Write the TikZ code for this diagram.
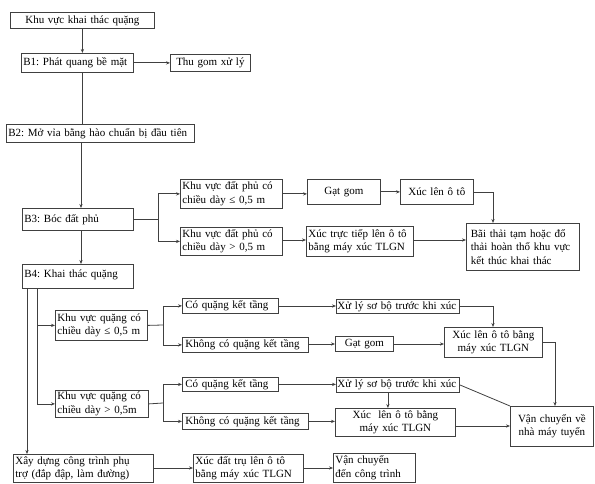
\documentclass[tikz,border=0pt]{standalone}
\usepackage{fontspec}
\setmainfont{Liberation Serif}
\usetikzlibrary{arrows.meta}
\frenchspacing
\begin{document}
\begin{tikzpicture}[x=1pt,y=-1pt,
  box/.style={draw=black!75, line width=0.8pt, anchor=north west, inner xsep=2pt, inner ysep=1pt,
    font=\fontsize{11}{13.5}\selectfont, align=left},
  cbox/.style={box, align=center},
  ln/.style={draw=black!75, line width=0.8pt},
  arr/.style={ln, -{Stealth[length=4pt,width=3.2pt]}}]
\useasboundingbox (0,0) rectangle (595,484);
% nodes
\node[cbox, minimum width=144pt, minimum height=16pt, text width=140pt] (n1) at (10,12) {Khu vực khai thác quặng};
\node[box, minimum width=112pt, minimum height=19pt, text width=108pt] (n2) at (21,53) {B1: Phát quang bề mặt};
\node[cbox, minimum width=80pt, minimum height=17pt, text width=76pt] (n3) at (170,54) {Thu gom xử lý};
\node[box, minimum width=188pt, minimum height=18pt, text width=184pt] (n4) at (6,124) {B2: Mở vỉa bằng hào chuẩn bị đầu tiên};
\node[box, minimum width=111pt, minimum height=22pt, text width=107pt] (n5) at (22,208) {B3: Bóc đất phủ};
\node[box, minimum width=102pt, minimum height=29pt, text width=98pt] (n6) at (180,179) {Khu vực đất phủ có\\chiều dày ≤ 0,5 m};
\node[box, minimum width=102pt, minimum height=28pt, text width=98pt] (n7) at (180,227) {Khu vực đất phủ có\\chiều dày > 0,5 m};
\node[box, minimum width=111pt, minimum height=24pt, text width=107pt, text depth=6pt] (n8) at (22,264) {B4: Khai thác quặng};
\node[cbox, minimum width=73pt, minimum height=25pt, text width=69pt] (n9) at (307,179) {Gạt gom};
\node[cbox, minimum width=73pt, minimum height=25pt, text width=69pt] (n10) at (400,179) {Xúc lên ô tô};
\node[box, minimum width=107pt, minimum height=30pt, text width=103pt] (n11) at (306,226) {Xúc trực tiếp lên ô tô\\bằng máy xúc TLGN};
\node[box, minimum width=113pt, minimum height=47pt, text width=104pt, inner xsep=4.5pt] (n12) at (466,223) {Bãi thải tạm hoặc đổ\\thải hoàn thổ khu vực\\kết thúc khai thác};
\node[box, minimum width=92pt, minimum height=30pt, text width=88pt] (n13) at (55,310) {Khu vực quặng có\\chiều dày ≤ 0,5 m};
\node[box, minimum width=93pt, minimum height=27pt, text width=89pt] (n14) at (55,390) {Khu vực quặng có\\chiều dày > 0,5m};
\node[box, minimum width=96pt, minimum height=15pt, text width=90pt, inner xsep=3pt] (n15) at (182,298) {Có quặng kết tầng};
\node[box, minimum width=126pt, minimum height=15pt, text width=120pt, inner xsep=3pt] (n16) at (182,337) {Không có quặng kết tầng};
\node[box, minimum width=123pt, minimum height=14pt, text width=121pt, inner xsep=1pt] (n17) at (336,299) {Xử lý sơ bộ trước khi xúc};
\node[cbox, minimum width=58pt, minimum height=15pt, text width=54pt] (n18) at (335,336) {Gạt gom};
\node[cbox, minimum width=98pt, minimum height=30pt, text width=94pt] (n19) at (444,327) {Xúc lên ô tô bằng\\máy xúc TLGN};
\node[box, minimum width=123pt, minimum height=15pt, text width=121pt, inner xsep=1pt] (n20) at (336,377) {Xử lý sơ bộ trước khi xúc};
\node[cbox, minimum width=120pt, minimum height=28pt, text width=116pt] (n21) at (335,408) {Xúc~ lên ô tô bằng\\máy xúc TLGN};
\node[cbox, minimum width=83pt, minimum height=40pt, text width=79pt] (n22) at (510,406) {Vận chuyển về\\nhà máy tuyển};
\node[box, minimum width=96pt, minimum height=14pt, text width=90pt, inner xsep=3pt] (n23) at (182,377) {Có quặng kết tầng};
\node[box, minimum width=126pt, minimum height=16pt, text width=120pt, inner xsep=3pt] (n24) at (182,413) {Không có quặng kết tầng};
\node[box, minimum width=140pt, minimum height=28pt, text width=136pt] (n25) at (13,454) {Xây dựng công trình phụ\\trợ (đắp đập, làm đường)};
\node[box, minimum width=110pt, minimum height=28pt, text width=106pt] (n26) at (193,454) {Xúc đất trụ lên ô tô\\bằng máy xúc TLGN};
\node[box, minimum width=82pt, minimum height=29pt, text width=78pt] (n27) at (333,453) {Vận chuyển\\đến công trình};
% helper coordinates
\coordinate (b3) at (158,219);
\coordinate (r1) at (493,192);
\coordinate (b13) at (163,325);
\coordinate (b14) at (163,403);
\coordinate (r2) at (493,306);
\coordinate (r3) at (555,342);
\coordinate (l1) at (27,288);
\coordinate (l2) at (37,288);
\coordinate (v1) at (81,0);
% connectors
\draw[arr] (n1.south) -- (n1.south |- n2.north);
\draw[arr] (n2.east) -- (n3.west);
\draw[ln] (n1.south |- n2.south) -- (n1.south |- n4.north);
\draw[arr] (v1 |- n4.south) -- (v1 |- n5.north);
\draw[ln] (n5.east |- b3) -- (b3);
\draw[arr] (b3) |- (n6.west);
\draw[arr] (b3) |- (n7.west);
\draw[arr] (n6.east) -- (n6.east -| n9.west);
\draw[arr] (n9.east) -- (n10.west);
\draw[arr] (n10.east |- r1) -- (r1) -- (r1 |- n12.north);
\draw[arr] (n7.east |- 0,240) -- (n11.west |- 0,240);
\draw[arr] (n11.east |- 0,240) -- (n12.west |- 0,240);
\draw[arr] (v1 |- n5.south) -- (v1 |- n8.north);
\draw[arr] (l1) -- (l1 |- n25.north);
\draw[ln] (l2) -- (l2 |- n14.west);
\draw[arr] (l2 |- n13.west) -- (n13.west);
\draw[arr] (l2 |- n14.west) -- (n14.west);
\draw[ln] (n13.east) -- (b13);
\draw[arr] (b13) |- (n15.west);
\draw[arr] (b13) |- (n16.west);
\draw[ln] (n14.east) -- (b14);
\draw[arr] (b14) |- (n23.west);
\draw[arr] (b14) |- (n24.west);
\draw[arr] (n15.east |- 0,306) -- (n17.west |- 0,306);
\draw[arr] (n16.east |- 0,344) -- (n18.west |- 0,344);
\draw[arr] (n18.east |- 0,344) -- (n19.west |- 0,344);
\draw[arr] (n17.east |- r2) -- (r2) -- (r2 |- n19.north);
\draw[arr] (n19.east |- r3) -- (r3) -- (r3 |- n22.north);
\draw[ln] (n20.east) -- (n22.north west);
\draw[arr] ([xshift=-10pt]n20.south) -- ([xshift=-10pt]n20.south |- n21.north);
\draw[arr] (n23.east) -- (n23.east -| n20.west);
\draw[arr] (n24.east) -- (n24.east -| n21.west);
\draw[arr] (n21.east |- 0,426) -- (n22.west |- 0,426);
\draw[arr] (n25.east |- 0,468) -- (n26.west |- 0,468);
\draw[arr] (n26.east |- 0,468) -- (n27.west |- 0,468);
\end{tikzpicture}
\end{document}
